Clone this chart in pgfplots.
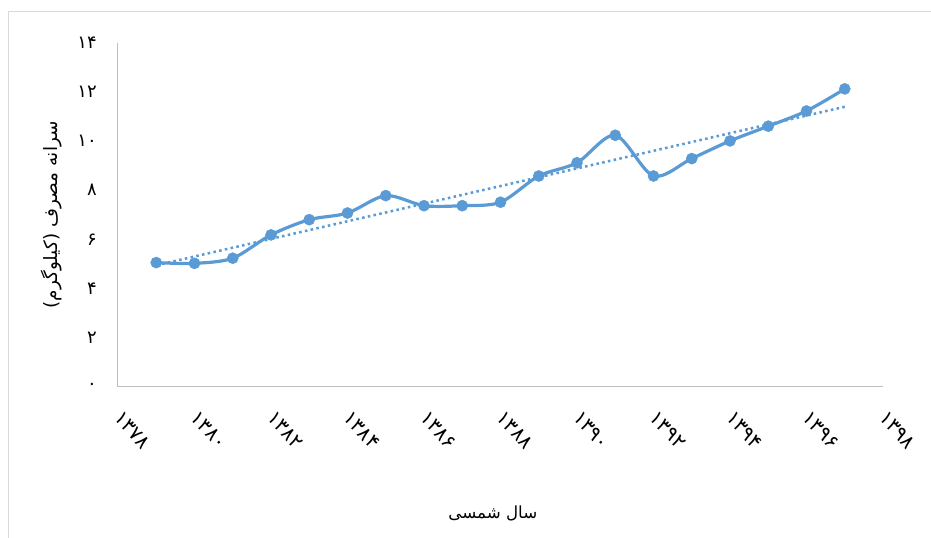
\documentclass[border=0pt]{standalone}
\usepackage{pgfplots}
\pgfplotsset{compat=1.18}
\usepackage{fontspec}
\setmainfont{Liberation Sans}
\newfontfamily\arabicfont[Script=Arabic]{DejaVu Sans}
\TeXXeTstate=1
\definecolor{ser}{HTML}{5B9BD5}
\definecolor{axc}{HTML}{BFBFBF}
\definecolor{frm}{HTML}{D9D9D9}
\pgfplotstableread{
year val
1379 5.05
1380 5.02
1381 5.23
1382 6.18
1383 6.80
1384 7.07
1385 7.78
1386 7.37
1387 7.37
1388 7.51
1389 8.58
1390 9.12
1391 10.24
1392 8.58
1393 9.29
1394 10.01
1395 10.61
1396 11.23
1397 12.13
}\datatable
\pgfplotstableread{
year val
1379 4.94
1397 11.40
}\trendtable
\begin{document}
\begin{tikzpicture}
\draw[frm, line width=0.75pt] (-81.75pt,-130pt) rectangle (640pt,281.625pt);
\begin{axis}[
  at={(0pt,0pt)}, anchor=origin,
  scale only axis,
  width=573.75pt, height=257.625pt,
  xmin=1378, xmax=1398, ymin=0, ymax=14,
  axis x line=bottom, axis y line=left,
  axis line style={axc, line width=0.75pt, -},
  major tick length=0pt,
  xtick={1378,1380,...,1398},
  xticklabels={۱۳۷۸,۱۳۸۰,۱۳۸۲,۱۳۸۴,۱۳۸۶,۱۳۸۸,۱۳۹۰,۱۳۹۲,۱۳۹۴,۱۳۹۶,۱۳۹۸},
  ytick={0,2,...,14},
  yticklabels={۰,۲,۴,۶,۸,۱۰,۱۲,۱۴},
  ticklabel style={font=\arabicfont\fontsize{13.5}{15}\selectfont, text=black},
  xticklabel style={font=\arabicfont\fontsize{15}{17}\selectfont, xshift=3.5pt, yshift=-17.5pt, rotate=-48, anchor=north west, inner sep=0pt},
  yticklabel style={anchor=east, inner sep=0pt, xshift=-15.75pt},
  xlabel={\arabicfont\fontsize{12.5}{14}\selectfont\beginR سال شمسی\endR},
  ylabel={\arabicfont\fontsize{13.8}{15}\selectfont\beginR سرانه مصرف (کیلوگرم)\endR},
  xlabel style={at={(axis description cs:0.49,-0.3685)}, anchor=center},
  ylabel style={at={(axis description cs:-0.0863,0.5)}, anchor=center},
  clip=false,
]
\addplot[ser, line width=2.4pt, smooth, mark=*, mark size=4.2pt, mark options={solid, fill=ser, draw=ser, line width=0.3pt}] table[x=year,y=val] {\datatable};
\addplot[ser, line width=1.9pt, dash pattern=on 1.9pt off 2.5pt] table[x=year,y=val] {\trendtable};
\end{axis}
\pgfresetboundingbox
\path[use as bounding box] (-88.5pt,-112.875pt) rectangle (609.75pt,289.875pt);
\end{tikzpicture}
\end{document}
